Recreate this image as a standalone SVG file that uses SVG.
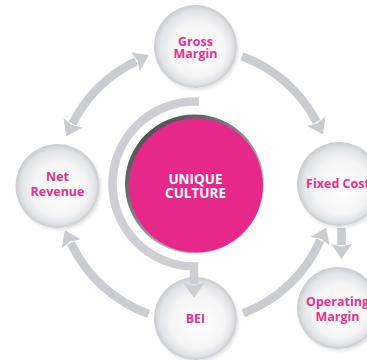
<svg xmlns="http://www.w3.org/2000/svg" width="367" height="360" viewBox="0 0 367 360">
  <defs>
    <style>
      .ring { fill: none; stroke: #cbccd0; stroke-width: 8.5; stroke-linecap: butt; stroke-linejoin: miter; }
      .node { fill: url(#sphere); filter: url(#soft); }
      .label { font-family: "Open Sans", "Liberation Sans", sans-serif; font-weight: 700; font-size: 12.5px; fill: #e5318c; text-anchor: middle; }
      .core { font-family: "Open Sans", "Liberation Sans", sans-serif; font-weight: 700; font-size: 13.5px; fill: #ffffff; text-anchor: middle; }
    </style>
    <radialGradient id="sphere" cx="50%" cy="50%" r="50%" fx="58%" fy="60%">
      <stop offset="0" stop-color="#ffffff"/>
      <stop offset="0.65" stop-color="#f5f5f6"/>
      <stop offset="0.88" stop-color="#e2e3e5"/>
      <stop offset="1" stop-color="#cacbce"/>
    </radialGradient>
    <linearGradient id="rim" x1="0.15" y1="0.1" x2="0.85" y2="0.9">
      <stop offset="0" stop-color="#4f4f52"/>
      <stop offset="0.5" stop-color="#8d8e91"/>
      <stop offset="1" stop-color="#e4e4e6"/>
    </linearGradient>
    <filter id="soft" x="-20%" y="-20%" width="150%" height="150%">
      <feDropShadow dx="1.5" dy="2" stdDeviation="1.8" flood-color="#000" flood-opacity="0.12"/>
    </filter>
    <marker id="head" viewBox="-1 -11 16 22" refX="0" refY="0" markerWidth="16" markerHeight="22" markerUnits="userSpaceOnUse" orient="auto-start-reverse">
      <path d="M-1,-10.5 L14,0 L-1,10.5 L1.5,0 Z" fill="#cbccd0"/>
    </marker>
  </defs>

  <!-- outer cycle connectors -->
  <g id="connectors">
    <path class="ring" d="M72.5,123.7 A137,137 0 0 1 136.2,61.3" marker-start="url(#head)" marker-end="url(#head)"/>
    <path class="ring" d="M241.9,56.3 A137,137 0 0 1 316.6,122" marker-end="url(#head)"/>
    <path class="ring" d="M243.2,313.2 A137,137 0 0 0 320.4,240.3" marker-end="url(#head)"/>
    <path class="ring" d="M148.6,313.9 A137,137 0 0 1 70.8,242.9" marker-end="url(#head)"/>
    <path class="ring" d="M341.5,228 L341.5,245" marker-end="url(#head)"/>
  </g>

  <!-- satellite nodes -->
  <g id="gross-margin">
    <circle class="node" cx="195.5" cy="46.5" r="41.5"/>
    <text class="label" x="195.5" y="46">Gross</text>
    <text class="label" x="195.5" y="57.5">Margin</text>
  </g>
  <g id="net-revenue">
    <circle class="node" cx="57.5" cy="186" r="42"/>
    <text class="label" x="57.5" y="181">Net</text>
    <text class="label" x="57.5" y="196">Revenue</text>
  </g>
  <g id="fixed-cost">
    <circle class="node" cx="339" cy="184" r="42"/>
    <text class="label" x="338" y="188">Fixed Cost</text>
  </g>
  <g id="bei">
    <circle class="node" cx="195.5" cy="318.5" r="41.5"/>
    <text class="label" x="195.5" y="323">BEI</text>
  </g>
  <g id="operating-margin">
    <circle class="node" cx="338" cy="308" r="41"/>
    <text class="label" x="337.5" y="306">Operating</text>
    <text class="label" x="337.5" y="321">Margin</text>
  </g>

  <!-- central hub -->
  <g id="unique-culture">
    <circle cx="194.5" cy="184" r="69.5" fill="url(#rim)"/>
    <circle cx="196" cy="185.5" r="67" fill="#e6288a"/>
    <text class="core" x="195.5" y="184">UNIQUE</text>
    <text class="core" x="195.5" y="198">CULTURE</text>
  </g>

  <!-- inner loop from Gross Margin down to BEI -->
  <g id="inner-connector">
    <path class="ring" opacity="0.92" d="M199,101.5 L196,101.5 A82.5,82.5 0 0 0 194,266.5 L194,284" marker-end="url(#head)"/>
  </g>
</svg>
